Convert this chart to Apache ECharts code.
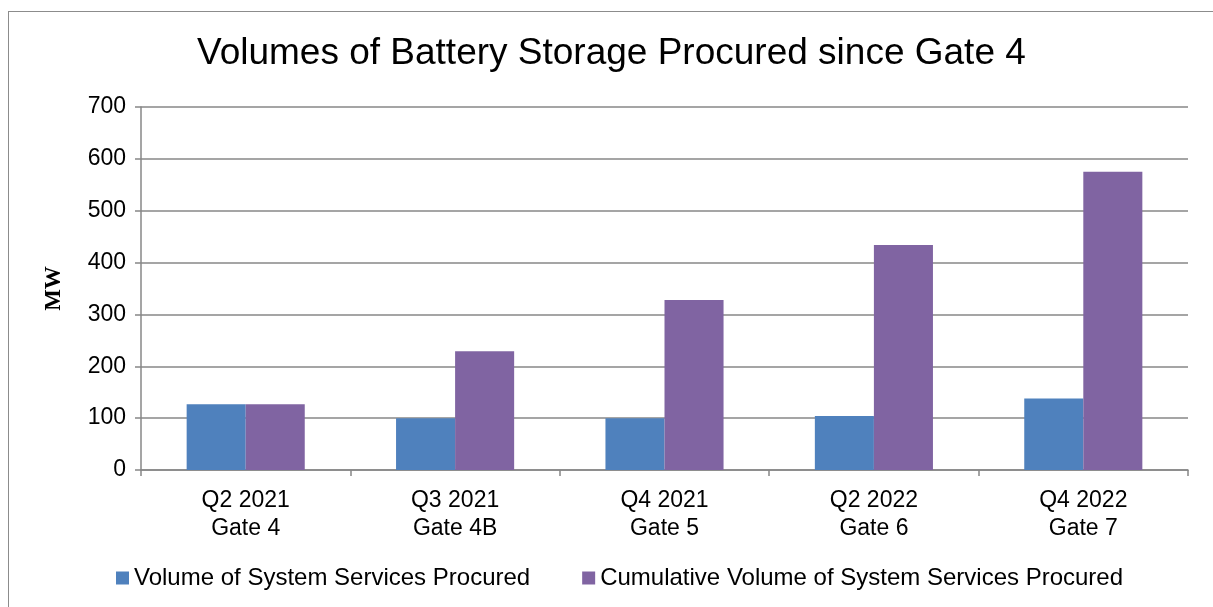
<!DOCTYPE html>
<html>
<head>
<meta charset="utf-8">
<script src="https://cdn.jsdelivr.net/npm/echarts@6/dist/echarts.min.js"></script>
<style>
  html, body { margin: 0; padding: 0; background: #fff; }
  #chart { width: 1213px; height: 607px; position: relative; }
  .frame { position: absolute; left: 8px; top: 11px; width: 1300px; height: 700px; border: 1.5px solid #8c8c8c; box-sizing: border-box; pointer-events: none; }
</style>
</head>
<body>
<div id="chart"></div>
<div class="frame"></div>
<script>
var categories = ['Q2 2021\nGate 4', 'Q3 2021\nGate 4B', 'Q4 2021\nGate 5', 'Q2 2022\nGate 6', 'Q4 2022\nGate 7'];
var volume = [127, 100, 100, 104, 138];
var cumulative = [127, 229, 328, 434, 575];

var font = "'Liberation Sans', Arial, sans-serif";
var gridColor = '#878787';

var option = {
  animation: false,
  title: {
    text: 'Volumes of Battery Storage Procured since Gate 4',
    left: 197,
    top: 35,
    padding: 0,
    textStyle: { fontFamily: font, fontSize: 37, fontWeight: 'normal', color: '#000' }
  },
  legend: {
    left: 116,
    top: 566,
    padding: 0,
    itemWidth: 13,
    itemHeight: 13,
    itemGap: 52,
    icon: 'rect',
    textStyle: { fontFamily: font, fontSize: 24, color: '#000' },
    data: ['Volume of System Services Procured', 'Cumulative Volume of System Services Procured']
  },
  grid: { left: 141, right: 25, top: 107, bottom: 137 },
  xAxis: {
    type: 'category',
    data: categories,
    axisLine: { lineStyle: { color: gridColor, width: 1.5 } },
    axisTick: { show: true, length: 6, lineStyle: { color: gridColor, width: 1.5 } },
    axisLabel: { fontFamily: font, fontSize: 23, color: '#000', lineHeight: 28, margin: 17 }
  },
  yAxis: {
    type: 'value',
    min: 0,
    max: 700,
    interval: 100,
    name: 'MW',
    nameLocation: 'middle',
    nameGap: 75,
    nameTextStyle: { fontFamily: "'Liberation Serif', 'Times New Roman', serif", fontSize: 23, fontWeight: 'bold', color: '#000' },
    axisLine: { show: true, lineStyle: { color: gridColor, width: 1.5 } },
    axisTick: { show: true, length: 6, lineStyle: { color: gridColor, width: 1.5 } },
    axisLabel: { fontFamily: font, fontSize: 23, color: '#000', margin: 15 },
    splitLine: { lineStyle: { color: gridColor, width: 1.5 } }
  },
  series: [
    {
      name: 'Volume of System Services Procured',
      type: 'bar',
      data: volume,
      barGap: '0%',
      barCategoryGap: '43.6%',
      itemStyle: { color: '#4F81BD' }
    },
    {
      name: 'Cumulative Volume of System Services Procured',
      type: 'bar',
      data: cumulative,
      barGap: '0%',
      barCategoryGap: '43.6%',
      itemStyle: { color: '#8064A2' }
    }
  ]
};

var myChart = echarts.init(document.getElementById('chart'));
myChart.setOption(option);
</script>
</body>
</html>
